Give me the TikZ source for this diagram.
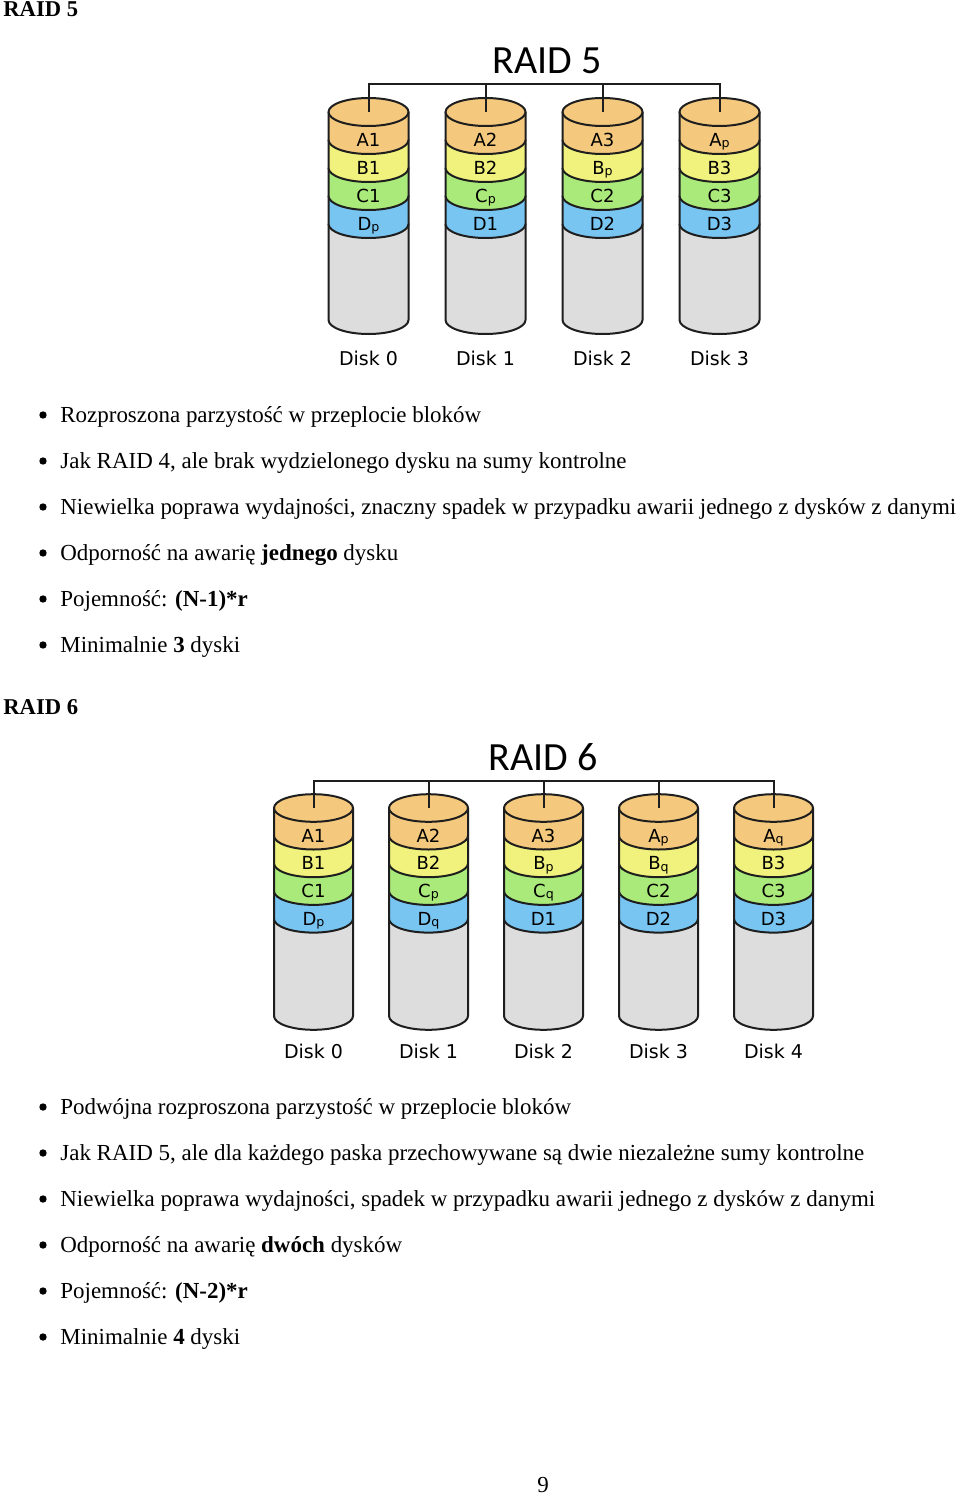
\documentclass[tikz,border=0pt]{standalone}
\usepackage{fontspec}
\setmainfont{Liberation Serif}
\newfontfamily\dvfont{DejaVu Sans}
\newfontfamily\ttlfont{Carlito}
\definecolor{cA}{RGB}{244,201,125}
\definecolor{cB}{RGB}{240,242,125}
\definecolor{cC}{RGB}{170,234,122}
\definecolor{cD}{RGB}{120,197,242}
\definecolor{cG}{RGB}{221,221,221}
\definecolor{cL}{RGB}{30,30,30}
\newcommand{\sbs}[1]{\raisebox{-0.6pt}{\fontsize{6.3pt}{6.3pt}\selectfont #1}}
\tikzset{
  diskline/.style={line width=1pt, draw=cL, line join=round},
  busline/.style={line width=1pt, draw=cL},
  blabel/.style={font=\dvfont\fontsize{9}{9}\selectfont, anchor=base, inner sep=0pt},
  dlabel/.style={font=\dvfont\fontsize{9.5}{9.5}\selectfont, anchor=base, inner sep=0pt},
  ttl/.style={font=\ttlfont\fontsize{20}{20}\selectfont, anchor=base, inner sep=0pt},
  body/.style={font=\fontsize{11.48}{11.48}\selectfont, anchor=base west, inner sep=0pt},
  head/.style={font=\bfseries\fontsize{11.3}{11.3}\selectfont, anchor=base west, inner sep=0pt},
  bul/.style={fill=black, circle, inner sep=0pt, minimum size=3.7pt},
}
% #1 name, #2 x, #3 y0, #4 step, #5 ybottom, #6-#9 labels
\newcommand{\drawdisk}[9]{%
  \pgfmathsetmacro\xl{#2-\rxpx}%
  \pgfmathsetmacro\xr{#2+\rxpx}%
  \draw[diskline, fill=cG] (\xl,{#3+4*#4}) -- (\xl,#5) arc[start angle=180,end angle=360,x radius=\rxpt,y radius=\rypt] -- (\xr,{#3+4*#4}) -- cycle;
  \foreach \k/\c in {3/cD,2/cC,1/cB,0/cA}{%
    \draw[diskline, fill=\c] (\xl,{#3+\k*#4}) -- (\xl,{#3+(\k+1)*#4}) arc[start angle=180,end angle=360,x radius=\rxpt,y radius=\rypt] -- (\xr,{#3+\k*#4}) -- cycle;
  }
  \draw[diskline, fill=cA] (#2,#3) ellipse[x radius=\rxpt, y radius=\rypt];
  \coordinate (#1t) at (#2,#3);
  \node[blabel] (#1a) at (#2,{#3+0.5*#4+\rypx+6.5}) {#6};
  \node[blabel] (#1b) at (#2,{#3+1.5*#4+\rypx+6.5}) {#7};
  \node[blabel] (#1c) at (#2,{#3+2.5*#4+\rypx+6.5}) {#8};
  \node[blabel] (#1d) at (#2,{#3+3.5*#4+\rypx+6.5}) {#9};
}
\begin{document}
\begin{tikzpicture}[x=0.5pt,y=-0.5pt]
\useasboundingbox (0,0) rectangle (960,1498);
\fill[white] (0,0) rectangle (960,1498);

% ---------- RAID 5 ----------
\node[head] (h5) at (3,17) {RAID 5};
\node[ttl] (t5) at (547,74) {RAID 5};
\def\rxpx{40}\def\rxpt{20pt}\def\rypx{14}\def\rypt{7pt}
\drawdisk{p0}{368.5}{112}{28}{320}{A1}{B1}{C1}{D\sbs{p}}
\drawdisk{p1}{485.5}{112}{28}{320}{A2}{B2}{C\sbs{p}}{D1}
\drawdisk{p2}{602.5}{112}{28}{320}{A3}{B\sbs{p}}{C2}{D2}
\drawdisk{p3}{719.5}{112}{28}{320}{A\sbs{p}}{B3}{C3}{D3}
\coordinate (q0) at (368.5,84);
\coordinate (q1) at (485.5,84);
\coordinate (q2) at (602.5,84);
\coordinate (q3) at (719.5,84);
\draw[busline] (p0t) -- (q0) -- (q3) -- (p3t);
\draw[busline] (q1) -- (p1t);
\draw[busline] (q2) -- (p2t);
\node[dlabel] (l50) at (368.5,365) {Disk 0};
\node[dlabel] (l51) at (485.5,365) {Disk 1};
\node[dlabel] (l52) at (602.5,365) {Disk 2};
\node[dlabel] (l53) at (719.5,365) {Disk 3};

\foreach \i/\t in {0/{Rozproszona parzystość w przeplocie bloków},
                   1/{Jak RAID 4, ale brak wydzielonego dysku na sumy kontrolne},
                   2/{Niewielka poprawa wydajności, znaczny spadek w przypadku awarii jednego z dysków z danymi},
                   3/{Odporność na awarię \textbf{jednego} dysku},
                   4/{Pojemność: \textbf{(N-1)*r}},
                   5/{Minimalnie \textbf{3} dyski}}{
  \node[bul] (b5\i) at (43,{415+46*\i}) {};
  \node[body] (x5\i) at (60,{422+46*\i}) {\t};
}

% ---------- RAID 6 ----------
\node[head] (h6) at (3,714) {RAID 6};
\node[ttl] (t6) at (543,770) {RAID 6};
\def\rxpx{39.5}\def\rxpt{19.75pt}\def\rypx{13.8}\def\rypt{6.9pt}
\drawdisk{r0}{313.5}{808}{27.7}{1016}{A1}{B1}{C1}{D\sbs{p}}
\drawdisk{r1}{428.5}{808}{27.7}{1016}{A2}{B2}{C\sbs{p}}{D\sbs{q}}
\drawdisk{r2}{543.5}{808}{27.7}{1016}{A3}{B\sbs{p}}{C\sbs{q}}{D1}
\drawdisk{r3}{658.5}{808}{27.7}{1016}{A\sbs{p}}{B\sbs{q}}{C2}{D2}
\drawdisk{r4}{773.5}{808}{27.7}{1016}{A\sbs{q}}{B3}{C3}{D3}
\coordinate (s0) at (313.5,781);
\coordinate (s1) at (428.5,781);
\coordinate (s2) at (543.5,781);
\coordinate (s3) at (658.5,781);
\coordinate (s4) at (773.5,781);
\draw[busline] (r0t) -- (s0) -- (s4) -- (r4t);
\draw[busline] (s1) -- (r1t);
\draw[busline] (s2) -- (r2t);
\draw[busline] (s3) -- (r3t);
\node[dlabel] (l60) at (313.5,1058) {Disk 0};
\node[dlabel] (l61) at (428.5,1058) {Disk 1};
\node[dlabel] (l62) at (543.5,1058) {Disk 2};
\node[dlabel] (l63) at (658.5,1058) {Disk 3};
\node[dlabel] (l64) at (773.5,1058) {Disk 4};

\foreach \i/\t in {0/{Podwójna rozproszona parzystość w przeplocie bloków},
                   1/{Jak RAID 5, ale dla każdego paska przechowywane są dwie niezależne sumy kontrolne},
                   2/{Niewielka poprawa wydajności, spadek w przypadku awarii jednego z dysków z danymi},
                   3/{Odporność na awarię \textbf{dwóch} dysków},
                   4/{Pojemność: \textbf{(N-2)*r}},
                   5/{Minimalnie \textbf{4} dyski}}{
  \node[bul] (b6\i) at (43,{1107+46*\i}) {};
  \node[body] (x6\i) at (60,{1114+46*\i}) {\t};
}

\node[font=\fontsize{11.48}{11.48}\selectfont, anchor=base, inner sep=0pt] (pg) at (543,1492) {9};
\end{tikzpicture}
\end{document}
